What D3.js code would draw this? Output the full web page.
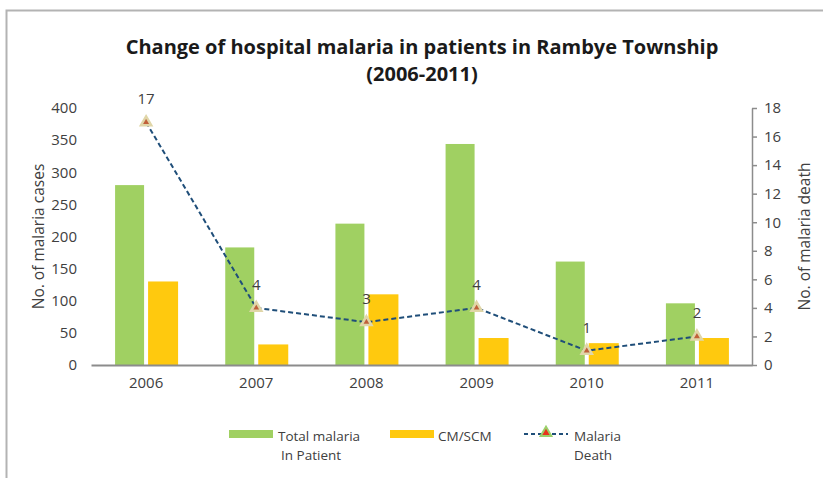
<!DOCTYPE html>
<html>
<head>
<meta charset="utf-8">
<script src="https://cdn.jsdelivr.net/npm/d3@7"></script>
<style>
  body { margin: 0; background: #fff; }
  text { font-family: "Open Sans", "DejaVu Sans", sans-serif; fill: #404040; }
</style>
</head>
<body>
<div id="chart"></div>
<script>
// DATA
var years = ["2006", "2007", "2008", "2009", "2010", "2011"];
var totalInPatient = [280, 183, 220, 344, 161, 96];
var cmScm = [130, 32, 110, 42, 34, 42];
var deaths = [17, 4, 3, 4, 1, 2];
var leftTicks = [0, 50, 100, 150, 200, 250, 300, 350, 400];
var rightTicks = [0, 2, 4, 6, 8, 10, 12, 14, 16, 18];

w = 823;
h = 478;
// plot area
var x0 = 91, x1 = 752, yTop = 108, yBot = 365;

var svg = d3.select("#chart")
    .append("svg")
    .attr("width", w)
    .attr("height", h);

// frame (only top and left edges visible)
svg.append("path")
    .attr("d", "M6.5,478 L6.5,10.5 L823,10.5")
    .attr("fill", "none")
    .attr("stroke", "#b3b3b3")
    .attr("stroke-width", 2);

// title
svg.append("text")
    .attr("x", 422).attr("y", 54)
    .attr("text-anchor", "middle")
    .style("font-size", "20px").style("font-weight", "bold").style("fill", "#1a1a1a")
    .text("Change of hospital malaria in patients in Rambye Township");
svg.append("text")
    .attr("x", 422).attr("y", 81)
    .attr("text-anchor", "middle")
    .style("font-size", "20px").style("font-weight", "bold").style("fill", "#1a1a1a")
    .text("(2006-2011)");

// scales
var x = d3.scaleBand().domain(years).range([x0, x1]);
var yL = d3.scaleLinear().domain([0, 400]).range([yBot, yTop]);
var yR = d3.scaleLinear().domain([0, 18]).range([yBot, yTop]);

var barW = 29, gap = 2;

// bars
svg.selectAll(".total")
    .data(years)
    .enter()
    .append("rect")
    .attr("class", "total")
    .attr("x", d => x(d) + x.bandwidth() / 2 - gap - barW)
    .attr("y", (d, i) => yL(totalInPatient[i]))
    .attr("width", barW)
    .attr("height", (d, i) => yBot - yL(totalInPatient[i]))
    .attr("fill", "#a0d062");

svg.selectAll(".cm")
    .data(years)
    .enter()
    .append("rect")
    .attr("class", "cm")
    .attr("x", d => x(d) + x.bandwidth() / 2 + gap)
    .attr("y", (d, i) => yL(cmScm[i]))
    .attr("width", barW + 1)
    .attr("height", (d, i) => yBot - yL(cmScm[i]))
    .attr("fill", "#ffc90e");

var tickFont = "15px";

// left axis (labels only)
var leftAxis = svg.append("g")
    .attr("transform", "translate(" + 84 + ",0)")
    .call(d3.axisLeft(yL).tickValues(leftTicks).tickSize(0).tickPadding(7));
leftAxis.select(".domain").remove();
leftAxis.selectAll("text").style("font-size", tickFont).style("fill", "#404040").style("font-family", "'Open Sans', sans-serif");

// right axis
var rightAxis = svg.append("g")
    .attr("transform", "translate(" + x1 + ",0)")
    .call(d3.axisRight(yR).tickValues(rightTicks).tickSize(5).tickSizeOuter(0).tickPadding(7));
rightAxis.select(".domain").attr("stroke", "#8c8c8c").attr("stroke-width", 1.5);
rightAxis.selectAll("line").attr("stroke", "#8c8c8c").attr("stroke-width", 1.5);
rightAxis.selectAll("text").style("font-size", tickFont).style("fill", "#404040").style("font-family", "'Open Sans', sans-serif");

// x axis
var xAxis = svg.append("g")
    .attr("transform", "translate(0," + yBot + ")")
    .call(d3.axisBottom(x).tickSize(0).tickPadding(12));
xAxis.select(".domain").attr("stroke", "#8c8c8c").attr("stroke-width", 2);
xAxis.selectAll("text").style("font-size", tickFont).style("fill", "#404040").style("font-family", "'Open Sans', sans-serif");

// axis titles
svg.append("text")
    .attr("transform", "translate(44," + ((yTop + yBot) / 2) + ") rotate(-90)")
    .attr("text-anchor", "middle")
    .style("font-size", "15.5px")
    .text("No. of malaria cases");
svg.append("text")
    .attr("transform", "translate(810," + ((yTop + yBot) / 2) + ") rotate(-90)")
    .attr("text-anchor", "middle")
    .style("font-size", "15.5px")
    .text("No. of malaria death");

// deaths line
var line = d3.line()
    .x((d, i) => x(years[i]) + x.bandwidth() / 2)
    .y(d => yR(d));

svg.append("path")
    .datum(deaths)
    .attr("d", line)
    .attr("fill", "none")
    .attr("stroke", "#1f4e79")
    .attr("stroke-width", 2)
    .attr("stroke-dasharray", "5,3");

var tri = d3.symbol().type(d3.symbolTriangle);

svg.selectAll(".mk")
    .data(deaths)
    .enter()
    .append("path")
    .attr("class", "mk")
    .attr("transform", (d, i) => "translate(" + (x(years[i]) + x.bandwidth() / 2) + "," + yR(d) + ")")
    .attr("d", tri.size(45))
    .attr("fill", "#c0603a")
    .attr("stroke", "#e0d6a8")
    .attr("stroke-width", 2.5);

svg.selectAll(".lbl")
    .data(deaths)
    .enter()
    .append("text")
    .attr("class", "lbl")
    .attr("x", (d, i) => x(years[i]) + x.bandwidth() / 2)
    .attr("y", d => yR(d) - 18)
    .attr("text-anchor", "middle")
    .style("font-size", "15px")
    .text(d => d);

// legend
var lg = svg.append("g");
lg.append("rect").attr("x", 229).attr("y", 430).attr("width", 44).attr("height", 8).attr("fill", "#a0d062");
lg.append("text").attr("x", 278).attr("y", 441).style("font-size", "13.5px").text("Total malaria");
lg.append("text").attr("x", 281).attr("y", 460).style("font-size", "13.5px").text("In Patient");

lg.append("rect").attr("x", 390).attr("y", 430).attr("width", 44).attr("height", 8).attr("fill", "#ffc90e");
lg.append("text").attr("x", 438).attr("y", 441).style("font-size", "13.5px").text("CM/SCM");

lg.append("line").attr("x1", 524).attr("x2", 568).attr("y1", 434).attr("y2", 434)
    .attr("stroke", "#1f4e79").attr("stroke-width", 2).attr("stroke-dasharray", "4,3");
lg.append("path").attr("transform", "translate(546,433)")
    .attr("d", tri.size(50))
    .attr("fill", "#e8341c").attr("stroke", "#9bd06b").attr("stroke-width", 2);
lg.append("text").attr("x", 574).attr("y", 441).style("font-size", "13.5px").text("Malaria");
lg.append("text").attr("x", 574).attr("y", 460).style("font-size", "13.5px").text("Death");
</script>
</body>
</html>
